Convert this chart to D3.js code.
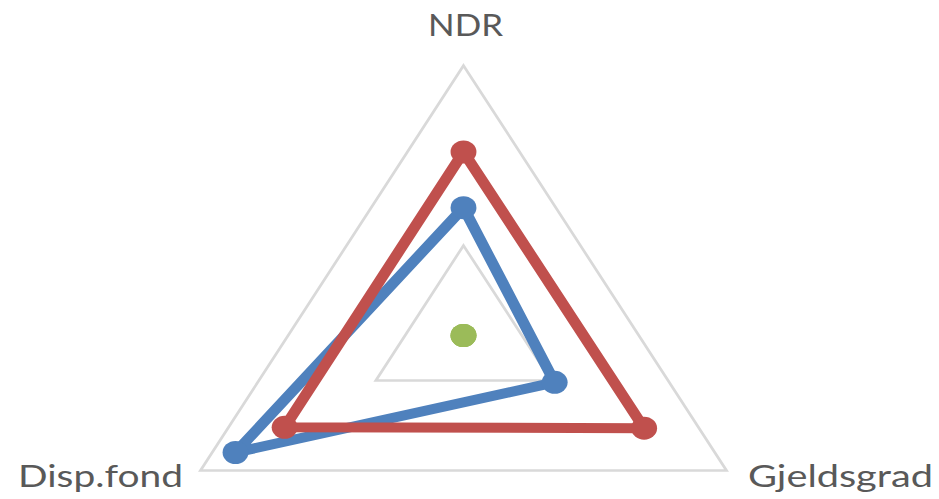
<!DOCTYPE html>
<html>
<head>
<meta charset="utf-8">
<script src="https://cdn.jsdelivr.net/npm/d3@7"></script>
<style>
  html, body { margin: 0; padding: 0; background: #ffffff; }
  svg { display: block; }
</style>
</head>
<body>
<svg id="chart" width="939" height="499"></svg>
<script>
// ---- data ----
const categories = ["NDR", "Gjeldsgrad", "Disp.fond"];
const seriesNames = ["Serie 1", "Serie 2", "Serie 3"];
const series1 = [1.42, 1.04, 2.60];   // blue
const series2 = [2.04, 2.06, 2.04];   // red
const series3 = [0, 0, 0];            // green
const gridValues = [1, 3];
const axisMin = 0, axisMax = 3;

// ---- layout ----
const W = 939, H = 499;
const cx = 463.5, cy = 335.5, R = 270, sx = 1.125;
const colors = ["#4F81BD", "#C0504D", "#9BBB59"];
const allSeries = [series1, series2, series3];

const svg = d3.select("#chart");
svg.append("rect").attr("width", W).attr("height", H).attr("fill", "#fff");

const r = d3.scaleLinear().domain([axisMin, axisMax]).range([0, R]);
const angle = d3.scalePoint().domain(categories).range([0, 2 * Math.PI * (categories.length - 1) / categories.length]);

const g = svg.append("g").attr("transform", `translate(${cx},${cy}) scale(${sx},1)`);

const pt = (cat, v) => {
  const a = angle(cat) - Math.PI / 2;
  return [Math.cos(a) * r(v), Math.sin(a) * r(v)];
};
const line = d3.line().curve(d3.curveLinearClosed);

// gridlines
g.selectAll("path.grid").data(gridValues).join("path")
  .attr("class", "grid")
  .attr("d", v => line(categories.map(c => pt(c, v))))
  .attr("fill", "none")
  .attr("stroke", "#D9D9D9")
  .attr("stroke-width", 2.5);

// series
allSeries.forEach((vals, i) => {
  const pts = categories.map((c, j) => pt(c, vals[j]));
  const sg = g.append("g").attr("class", "series");
  if (d3.max(vals) > axisMin) {
    sg.append("path")
      .attr("d", line(pts))
      .attr("fill", "none")
      .attr("stroke", colors[i])
      .attr("stroke-width", 10)
      .attr("stroke-linejoin", "round");
  }
  sg.selectAll("circle").data(pts).join("circle")
    .attr("cx", d => d[0]).attr("cy", d => d[1])
    .attr("r", 11.5)
    .attr("fill", colors[i]);
});

// category labels
const labelPos = [
  { x: 465.5, y: 36, anchor: "middle", w: 75 },
  { x: 748, y: 487, anchor: "start", w: 185 },
  { x: 183, y: 487, anchor: "end", w: 165 }
];
categories.forEach((c, i) => {
  const p = labelPos[i];
  const t = svg.append("text")
    .attr("text-anchor", p.anchor)
    .attr("font-family", "Lato, 'Open Sans', sans-serif")
    .attr("font-size", 30)
    .attr("fill", "#595959")
    .text(c);
  const len = t.node().getComputedTextLength() || 1;
  const k = p.w / len;
  t.attr("transform", `translate(${p.x},${p.y}) scale(${k},1)`);
});
</script>
</body>
</html>
